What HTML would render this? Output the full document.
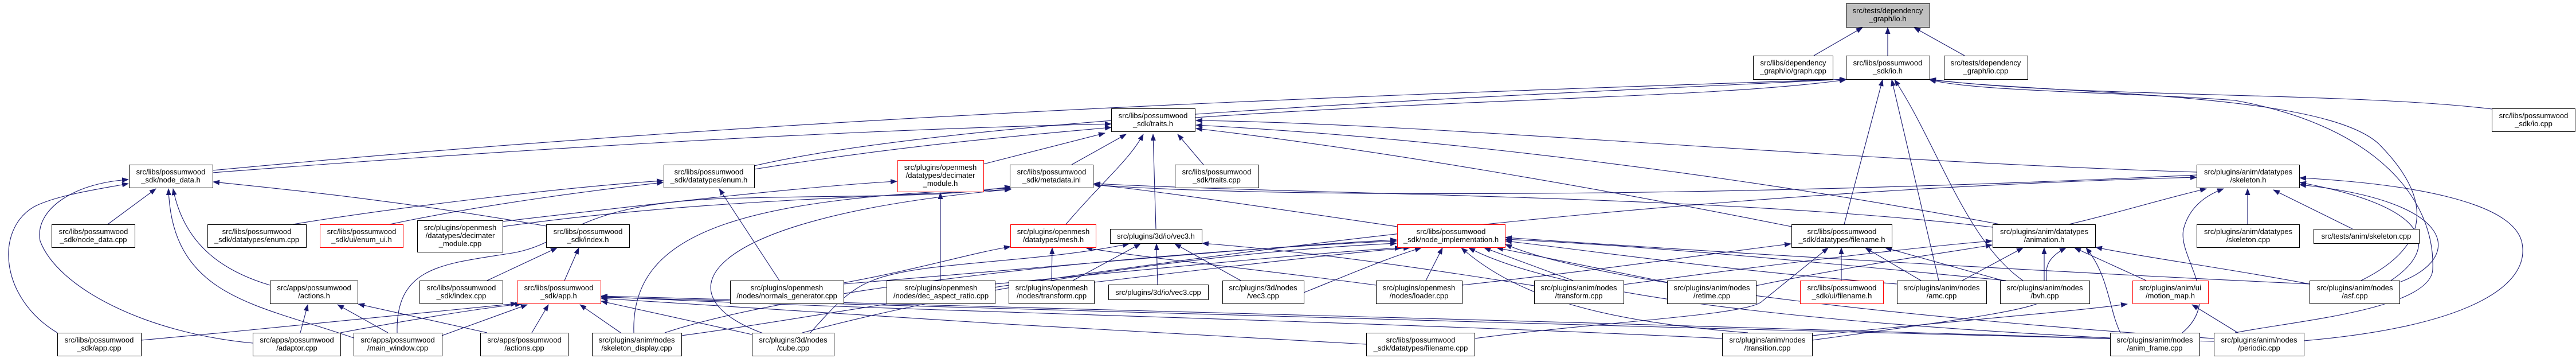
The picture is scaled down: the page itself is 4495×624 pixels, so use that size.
<!DOCTYPE html>
<html><head><meta charset="utf-8"><style>
html,body{margin:0;padding:0;background:#fff;}
svg{display:block;}
text{font-family:"Liberation Sans",Arial,sans-serif;font-size:13px;fill:#000;}
.e{fill:none;stroke:#191970;stroke-width:1.1;marker-end:url(#a);}
.n{fill:#fff;stroke:#000;stroke-width:1;}
.r{fill:#fff;stroke:#ff0000;stroke-width:1;}
.g{fill:#bfbfbf;stroke:#000;stroke-width:1;}
</style></head><body>
<svg width="4495" height="624" viewBox="0 0 4495 624" xmlns="http://www.w3.org/2000/svg">
<defs><marker id="a" markerUnits="userSpaceOnUse" markerWidth="12" markerHeight="10" refX="11" refY="4.5" orient="auto"><path d="M0,0 L12,4.5 L0,9 z" fill="#191970"/></marker></defs>
<g>
<path class="e" d="M3165,97 L3250,48"/>
<path class="e" d="M3294,97 L3294,48"/>
<path class="e" d="M3428,97 L3340,48"/>
<path class="e" d="M2085,205 C2600,170 3000,170 3221,139"/>
<path class="e" d="M371,297 C1500,190 2600,160 3221,138"/>
<path class="e" d="M1316,289 C1700,200 2700,165 3221,138"/>
<path class="e" d="M4348,190 C4100,160 3600,170 3367,138"/>
<path class="e" d="M4120,489 C4260,420 4230,330 4150,250 C4050,160 3600,165 3367,139"/>
<path class="e" d="M3900,580 C4000,560 4240,540 4245,470 C4250,350 4150,220 3900,175 C3700,160 3450,160 3367,139"/>
<path class="e" d="M3218,391 L3285,139"/>
<path class="e" d="M3383,489 L3301,139"/>
<path class="e" d="M3530,489 C3430,420 3380,250 3306,139"/>
<path class="e" d="M371,301 C900,260 1500,225 1939,216"/>
<path class="e" d="M1316,295 C1600,250 1800,235 1939,222"/>
<path class="e" d="M1716,286 L1928,232"/>
<path class="e" d="M1870,287 L1965,234"/>
<path class="e" d="M1860,391 C1920,320 1970,280 1995,234"/>
<path class="e" d="M2017,399 L2012,234"/>
<path class="e" d="M2100,287 L2055,234"/>
<path class="e" d="M3833,300 C3200,280 2500,215 2087,210"/>
<path class="e" d="M3490,391 C3000,300 2500,240 2087,218"/>
<path class="e" d="M3126,395 C2800,330 2400,260 2087,224"/>
<path class="e" d="M2438,395 C2200,360 2000,330 1909,322"/>
<path class="e" d="M877,395 C1200,350 1500,345 1764,330"/>
<path class="e" d="M693,580 C690,460 780,460 900,440 C1000,420 1000,350 1300,345 C1500,340 1650,345 1764,325"/>
<path class="e" d="M1106,580 C1100,400 1300,345 1764,328"/>
<path class="e" d="M1340,584 C1150,520 1200,380 1764,330"/>
<path class="e" d="M1189,585 C1500,545 2500,345 3833,309"/>
<path class="e" d="M3477,396 C3000,340 2300,340 1909,320"/>
<path class="e" d="M3833,305 C3000,345 2200,345 1909,322"/>
<path class="e" d="M188,391 L272,329"/>
<path class="e" d="M953,394 C700,350 500,330 372,317"/>
<path class="e" d="M471,497 C380,470 320,420 302,329"/>
<path class="e" d="M620,590 C450,530 300,520 294,329"/>
<path class="e" d="M100,580 C0,520 -10,400 60,360 C100,340 170,330 224,320"/>
<path class="e" d="M441,598 C250,580 100,500 70,420 C60,370 120,320 224,313"/>
<path class="e" d="M511,391 C700,360 1000,325 1157,315"/>
<path class="e" d="M680,391 C850,355 1050,330 1157,318"/>
<path class="e" d="M1360,489 L1255,329"/>
<path class="e" d="M877,386 C1100,360 1400,325 1565,316"/>
<path class="e" d="M1641,489 L1641,336"/>
<path class="e" d="M850,489 L972,432"/>
<path class="e" d="M985,489 L1010,432"/>
<path class="e" d="M524,580 L537,531"/>
<path class="e" d="M677,580 L589,531"/>
<path class="e" d="M850,580 L625,530"/>
<path class="e" d="M246,593 C500,570 800,540 902,529"/>
<path class="e" d="M594,580 C700,560 850,535 910,530"/>
<path class="e" d="M771,585 L920,531"/>
<path class="e" d="M928,580 L957,531"/>
<path class="e" d="M1083,580 L1012,531"/>
<path class="e" d="M1312,583 L1049,525"/>
<path class="e" d="M3005,590 C2400,560 1500,540 1049,517"/>
<path class="e" d="M3682,590 C2800,560 1600,535 1049,516"/>
<path class="e" d="M3863,595 C2900,570 1700,540 1049,518"/>
<path class="e" d="M2384,600 C2000,580 1400,545 1049,520"/>
<path class="e" d="M1472,493 C1600,470 1700,440 1763,430"/>
<path class="e" d="M1835,489 L1836,432"/>
<path class="e" d="M2401,497 C2200,470 2000,450 1895,432"/>
<path class="e" d="M1872,489 L1990,425"/>
<path class="e" d="M2020,496 L2018,425"/>
<path class="e" d="M2165,489 L2050,425"/>
<path class="e" d="M1414,580 C1450,540 1480,505 1520,490 C1600,455 1800,460 1970,425"/>
<path class="e" d="M2677,498 C2500,470 2300,440 2098,424"/>
<path class="e" d="M1160,580 C1400,500 2000,440 2437,420"/>
<path class="e" d="M1400,580 C1700,500 2100,440 2437,424"/>
<path class="e" d="M1472,495 C1900,460 2200,430 2437,418"/>
<path class="e" d="M1736,495 C2000,470 2300,440 2445,432"/>
<path class="e" d="M1909,492 C2100,470 2350,440 2460,432"/>
<path class="e" d="M2275,510 C2350,480 2420,450 2480,432"/>
<path class="e" d="M2488,489 L2517,432"/>
<path class="e" d="M3050,580 C2800,560 2650,520 2550,432"/>
<path class="e" d="M3700,590 C3300,570 2750,530 2563,432"/>
<path class="e" d="M2745,489 L2590,432"/>
<path class="e" d="M2909,492 L2612,432"/>
<path class="e" d="M3310,495 C3000,470 2800,440 2627,420"/>
<path class="e" d="M3500,489 C3200,460 2900,430 2627,417"/>
<path class="e" d="M4030,495 C3500,470 3000,440 2627,414"/>
<path class="e" d="M3863,590 C3400,560 2800,500 2627,426"/>
<path class="e" d="M3213,489 L3213,432"/>
<path class="e" d="M3352,489 L3255,432"/>
<path class="e" d="M3495,489 L3290,432"/>
<path class="e" d="M2573,590 C2800,560 3050,550 3075,525 L3190,432"/>
<path class="e" d="M2551,497 C2800,470 3000,440 3125,425"/>
<path class="e" d="M3424,489 L3530,432"/>
<path class="e" d="M3567,489 L3567,432"/>
<path class="e" d="M3745,489 L3620,432"/>
<path class="e" d="M3162,593 C3400,560 3560,540 3570,520 C3580,490 3550,460 3605,432"/>
<path class="e" d="M3064,498 C3250,460 3400,440 3476,427"/>
<path class="e" d="M2833,496 C3100,460 3350,430 3476,420"/>
<path class="e" d="M4030,495 C3900,470 3750,450 3657,431"/>
<path class="e" d="M3700,580 C3680,540 3680,480 3640,432"/>
<path class="e" d="M3922,391 L3922,329"/>
<path class="e" d="M4105,399 L3967,331"/>
<path class="e" d="M4172,489 C4260,430 4240,360 4013,318"/>
<path class="e" d="M4187,492 C4300,450 4290,350 4013,322"/>
<path class="e" d="M4020,594 C4300,570 4420,500 4400,420 C4380,350 4200,320 4013,310"/>
<path class="e" d="M3808,580 C3880,520 3800,450 3810,400 C3820,360 3850,340 3880,329"/>
<path class="e" d="M3610,391 C3700,370 3780,345 3850,329"/>
<path class="e" d="M3905,580 L3825,531"/>
<path class="e" d="M3162,585 C3400,560 3600,545 3712,530"/>
</g>
<g>
<rect class="g" x="3221.5" y="6.5" width="146" height="41"/><text x="3294" y="23" text-anchor="middle">src/tests/dependency</text><text x="3294" y="37" text-anchor="middle">_graph/io.h</text>
<rect class="n" x="3059.5" y="97.5" width="139" height="41"/><text x="3129" y="114" text-anchor="middle">src/libs/dependency</text><text x="3129" y="128" text-anchor="middle">_graph/io/graph.cpp</text>
<rect class="n" x="3221.5" y="97.5" width="146" height="41"/><text x="3294" y="114" text-anchor="middle">src/libs/possumwood</text><text x="3294" y="128" text-anchor="middle">_sdk/io.h</text>
<rect class="n" x="3392.5" y="97.5" width="146" height="41"/><text x="3465" y="114" text-anchor="middle">src/tests/dependency</text><text x="3465" y="128" text-anchor="middle">_graph/io.cpp</text>
<rect class="n" x="4348.5" y="189.5" width="145" height="40"/><text x="4421" y="206" text-anchor="middle">src/libs/possumwood</text><text x="4421" y="220" text-anchor="middle">_sdk/io.cpp</text>
<rect class="n" x="1939.5" y="189.5" width="146" height="40"/><text x="2012" y="206" text-anchor="middle">src/libs/possumwood</text><text x="2012" y="220" text-anchor="middle">_sdk/traits.h</text>
<rect class="n" x="225.5" y="287.5" width="146" height="40"/><text x="298" y="304" text-anchor="middle">src/libs/possumwood</text><text x="298" y="318" text-anchor="middle">_sdk/node_data.h</text>
<rect class="n" x="1158.5" y="287.5" width="158" height="40"/><text x="1237" y="304" text-anchor="middle">src/libs/possumwood</text><text x="1237" y="318" text-anchor="middle">_sdk/datatypes/enum.h</text>
<rect class="r" x="1566.5" y="279.5" width="150" height="55"/><text x="1641" y="296" text-anchor="middle">src/plugins/openmesh</text><text x="1641" y="310" text-anchor="middle">/datatypes/decimater</text><text x="1641" y="324" text-anchor="middle">_module.h</text>
<rect class="n" x="1762.5" y="287.5" width="145" height="40"/><text x="1835" y="304" text-anchor="middle">src/libs/possumwood</text><text x="1835" y="318" text-anchor="middle">_sdk/metadata.inl</text>
<rect class="n" x="2050.5" y="287.5" width="146" height="40"/><text x="2123" y="304" text-anchor="middle">src/libs/possumwood</text><text x="2123" y="318" text-anchor="middle">_sdk/traits.cpp</text>
<rect class="n" x="3833.5" y="287.5" width="179" height="40"/><text x="3923" y="304" text-anchor="middle">src/plugins/anim/datatypes</text><text x="3923" y="318" text-anchor="middle">/skeleton.h</text>
<rect class="n" x="90.5" y="391.5" width="145" height="40"/><text x="163" y="408" text-anchor="middle">src/libs/possumwood</text><text x="163" y="422" text-anchor="middle">_sdk/node_data.cpp</text>
<rect class="n" x="362.5" y="391.5" width="172" height="40"/><text x="448" y="408" text-anchor="middle">src/libs/possumwood</text><text x="448" y="422" text-anchor="middle">_sdk/datatypes/enum.cpp</text>
<rect class="r" x="558.5" y="391.5" width="145" height="40"/><text x="631" y="408" text-anchor="middle">src/libs/possumwood</text><text x="631" y="422" text-anchor="middle">_sdk/ui/enum_ui.h</text>
<rect class="n" x="728.5" y="384.5" width="149" height="55"/><text x="803" y="401" text-anchor="middle">src/plugins/openmesh</text><text x="803" y="415" text-anchor="middle">/datatypes/decimater</text><text x="803" y="429" text-anchor="middle">_module.cpp</text>
<rect class="n" x="953.5" y="391.5" width="145" height="40"/><text x="1026" y="408" text-anchor="middle">src/libs/possumwood</text><text x="1026" y="422" text-anchor="middle">_sdk/index.h</text>
<rect class="r" x="1763.5" y="391.5" width="149" height="40"/><text x="1838" y="408" text-anchor="middle">src/plugins/openmesh</text><text x="1838" y="422" text-anchor="middle">/datatypes/mesh.h</text>
<rect class="n" x="1937.5" y="399.5" width="160" height="25"/><text x="2017" y="416" text-anchor="middle">src/plugins/3d/io/vec3.h</text>
<rect class="r" x="2438.5" y="391.5" width="188" height="40"/><text x="2532" y="408" text-anchor="middle">src/libs/possumwood</text><text x="2532" y="422" text-anchor="middle">_sdk/node_implementation.h</text>
<rect class="n" x="3126.5" y="391.5" width="175" height="40"/><text x="3214" y="408" text-anchor="middle">src/libs/possumwood</text><text x="3214" y="422" text-anchor="middle">_sdk/datatypes/filename.h</text>
<rect class="n" x="3477.5" y="391.5" width="179" height="40"/><text x="3567" y="408" text-anchor="middle">src/plugins/anim/datatypes</text><text x="3567" y="422" text-anchor="middle">/animation.h</text>
<rect class="n" x="3833.5" y="391.5" width="179" height="40"/><text x="3923" y="408" text-anchor="middle">src/plugins/anim/datatypes</text><text x="3923" y="422" text-anchor="middle">/skeleton.cpp</text>
<rect class="n" x="4037.5" y="399.5" width="184" height="25"/><text x="4129" y="416" text-anchor="middle">src/tests/anim/skeleton.cpp</text>
<rect class="n" x="471.5" y="489.5" width="153" height="40"/><text x="548" y="506" text-anchor="middle">src/apps/possumwood</text><text x="548" y="520" text-anchor="middle">/actions.h</text>
<rect class="n" x="732.5" y="489.5" width="145" height="40"/><text x="805" y="506" text-anchor="middle">src/libs/possumwood</text><text x="805" y="520" text-anchor="middle">_sdk/index.cpp</text>
<rect class="r" x="902.5" y="489.5" width="146" height="40"/><text x="975" y="506" text-anchor="middle">src/libs/possumwood</text><text x="975" y="520" text-anchor="middle">_sdk/app.h</text>
<rect class="n" x="1274.5" y="489.5" width="198" height="40"/><text x="1373" y="506" text-anchor="middle">src/plugins/openmesh      </text><text x="1373" y="520" text-anchor="middle">/nodes/normals_generator.cpp</text>
<rect class="n" x="1547.5" y="489.5" width="189" height="40"/><text x="1642" y="506" text-anchor="middle">src/plugins/openmesh    </text><text x="1642" y="520" text-anchor="middle">/nodes/dec_aspect_ratio.cpp</text>
<rect class="n" x="1760.5" y="489.5" width="149" height="40"/><text x="1835" y="506" text-anchor="middle">src/plugins/openmesh</text><text x="1835" y="520" text-anchor="middle">/nodes/transform.cpp</text>
<rect class="n" x="1934.5" y="496.5" width="174" height="26"/><text x="2021" y="514" text-anchor="middle">src/plugins/3d/io/vec3.cpp</text>
<rect class="n" x="2133.5" y="489.5" width="142" height="40"/><text x="2204" y="506" text-anchor="middle">src/plugins/3d/nodes</text><text x="2204" y="520" text-anchor="middle">/vec3.cpp</text>
<rect class="n" x="2401.5" y="489.5" width="150" height="40"/><text x="2476" y="506" text-anchor="middle">src/plugins/openmesh</text><text x="2476" y="520" text-anchor="middle">/nodes/loader.cpp</text>
<rect class="n" x="2677.5" y="489.5" width="156" height="40"/><text x="2755" y="506" text-anchor="middle">src/plugins/anim/nodes</text><text x="2755" y="520" text-anchor="middle">/transform.cpp</text>
<rect class="n" x="2909.5" y="489.5" width="155" height="40"/><text x="2987" y="506" text-anchor="middle">src/plugins/anim/nodes</text><text x="2987" y="520" text-anchor="middle">/retime.cpp</text>
<rect class="r" x="3141.5" y="489.5" width="145" height="40"/><text x="3214" y="506" text-anchor="middle">src/libs/possumwood</text><text x="3214" y="520" text-anchor="middle">_sdk/ui/filename.h</text>
<rect class="n" x="3310.5" y="489.5" width="156" height="40"/><text x="3388" y="506" text-anchor="middle">src/plugins/anim/nodes</text><text x="3388" y="520" text-anchor="middle">/amc.cpp</text>
<rect class="n" x="3490.5" y="489.5" width="156" height="40"/><text x="3568" y="506" text-anchor="middle">src/plugins/anim/nodes</text><text x="3568" y="520" text-anchor="middle">/bvh.cpp</text>
<rect class="r" x="3721.5" y="489.5" width="132" height="40"/><text x="3787" y="506" text-anchor="middle">src/plugins/anim/ui</text><text x="3787" y="520" text-anchor="middle">/motion_map.h</text>
<rect class="n" x="4030.5" y="489.5" width="157" height="40"/><text x="4109" y="506" text-anchor="middle">src/plugins/anim/nodes</text><text x="4109" y="520" text-anchor="middle">/asf.cpp</text>
<rect class="n" x="100.5" y="580.5" width="146" height="40"/><text x="173" y="597" text-anchor="middle">src/libs/possumwood</text><text x="173" y="611" text-anchor="middle">_sdk/app.cpp</text>
<rect class="n" x="441.5" y="580.5" width="153" height="40"/><text x="518" y="597" text-anchor="middle">src/apps/possumwood</text><text x="518" y="611" text-anchor="middle">/adaptor.cpp</text>
<rect class="n" x="617.5" y="580.5" width="154" height="40"/><text x="694" y="597" text-anchor="middle">src/apps/possumwood</text><text x="694" y="611" text-anchor="middle">/main_window.cpp</text>
<rect class="n" x="838.5" y="580.5" width="153" height="40"/><text x="915" y="597" text-anchor="middle">src/apps/possumwood</text><text x="915" y="611" text-anchor="middle">/actions.cpp</text>
<rect class="n" x="1033.5" y="580.5" width="156" height="40"/><text x="1111" y="597" text-anchor="middle">src/plugins/anim/nodes</text><text x="1111" y="611" text-anchor="middle">/skeleton_display.cpp</text>
<rect class="n" x="1312.5" y="580.5" width="143" height="40"/><text x="1384" y="597" text-anchor="middle">src/plugins/3d/nodes</text><text x="1384" y="611" text-anchor="middle">/cube.cpp</text>
<rect class="n" x="2384.5" y="580.5" width="189" height="40"/><text x="2479" y="597" text-anchor="middle">src/libs/possumwood           </text><text x="2479" y="611" text-anchor="middle">_sdk/datatypes/filename.cpp</text>
<rect class="n" x="3005.5" y="580.5" width="157" height="40"/><text x="3084" y="597" text-anchor="middle">src/plugins/anim/nodes</text><text x="3084" y="611" text-anchor="middle">/transition.cpp</text>
<rect class="n" x="3682.5" y="580.5" width="156" height="40"/><text x="3760" y="597" text-anchor="middle">src/plugins/anim/nodes</text><text x="3760" y="611" text-anchor="middle">/anim_frame.cpp</text>
<rect class="n" x="3863.5" y="580.5" width="157" height="40"/><text x="3942" y="597" text-anchor="middle">src/plugins/anim/nodes</text><text x="3942" y="611" text-anchor="middle">/periodic.cpp</text>
</g>
</svg>
</body></html>
